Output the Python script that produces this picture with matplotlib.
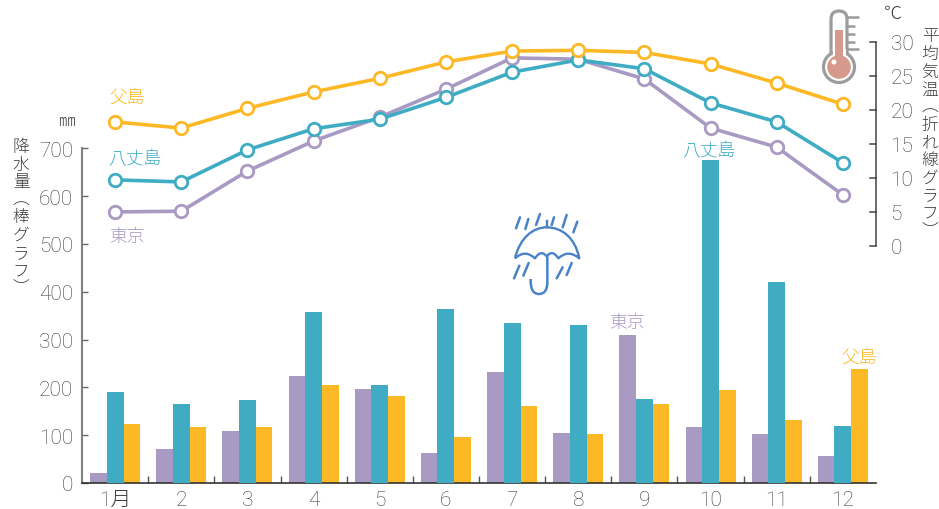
import matplotlib
matplotlib.use("Agg")
import matplotlib.pyplot as plt
import numpy as np
from matplotlib.patches import Circle, Rectangle, FancyBboxPatch, PathPatch
from matplotlib.path import Path

plt.rcParams['font.family'] = ['Noto Sans CJK JP', 'DejaVu Sans']

months = [1, 2, 3, 4, 5, 6, 7, 8, 9, 10, 11, 12]
month_labels = ['1月', '2', '3', '4', '5', '6', '7', '8', '9', '10', '11', '12']
rain_tokyo = [21, 71, 109, 224, 197, 63, 232, 105, 310, 117, 103, 57]
rain_hachijo = [190, 165, 174, 358, 205, 364, 335, 331, 176, 676, 421, 119]
rain_chichi = [123, 117, 117, 205, 182, 96, 161, 103, 165, 195, 132, 238]
temp_tokyo = [5.0, 5.1, 11.0, 15.4, 18.9, 23.0, 27.6, 27.4, 24.5, 17.3, 14.5, 7.5]
temp_hachijo = [9.7, 9.4, 14.1, 17.2, 18.6, 21.8, 25.5, 27.3, 26.0, 21.0, 18.2, 12.2]
temp_chichi = [18.2, 17.3, 20.2, 22.6, 24.6, 27.0, 28.6, 28.7, 28.4, 26.7, 23.9, 20.8]
rain_ticks = [0, 100, 200, 300, 400, 500, 600, 700]
temp_ticks = [0, 5, 10, 15, 20, 25, 30]

PURPLE = '#a99ac3'
TEAL = '#3facc4'
ORANGE = '#fdb825'
TXT = '#3c3c3c'
W, H = 939, 510
FS = 15
NUM = ['Roboto', 'Noto Sans CJK JP']

fig = plt.figure(figsize=(W / 100, H / 100), dpi=100)


def rect(l, t, r, b):
    return [l / W, 1 - b / H, (r - l) / W, (b - t) / H]


ax = fig.add_axes(rect(82, 42.5, 876, 484))
ax.patch.set_alpha(0)
x = np.array(months, dtype=float)
bw = 0.257
ax.bar(x - 0.25, rain_tokyo, bw, color=PURPLE, zorder=2)
ax.bar(x + 0.25, rain_chichi, bw, color=ORANGE, zorder=2)
ax.bar(x, rain_hachijo, bw, color=TEAL, zorder=3)
ax.set_xlim(0.5, 12.5)
ax.set_ylim(0, 441.5 / 0.478)
for s in ['top', 'right']:
    ax.spines[s].set_visible(False)
ax.spines['left'].set_bounds(0, 700)
ax.spines['left'].set_color('#808080')
ax.spines['left'].set_linewidth(1.5)
ax.spines['bottom'].set_color('#333333')
ax.spines['bottom'].set_linewidth(1.2)
ax.set_yticks(rain_ticks)
ax.tick_params(axis='y', direction='in', length=4.5, width=1, color='#666666',
               labelsize=FS, labelcolor=TXT, pad=6.5)
ax.set_xticks(months)
ax.set_xticklabels(month_labels)
ax.set_xticks(np.arange(1.5, 12.5, 1), minor=True)
ax.tick_params(axis='x', which='major', length=0, labelsize=FS, labelcolor=TXT, pad=5)
ax.tick_params(axis='x', which='minor', direction='in', length=5, width=1, color='#555555')
for lab in ax.get_xticklabels() + ax.get_yticklabels():
    lab.set_family(NUM)
    lab.set_weight('light')

ax2 = fig.add_axes(rect(82, 42.5, 876, 247))
ax2.patch.set_alpha(0)
ax2.set_xlim(0.5, 12.5)
ax2.set_ylim(0, 30)
for series, c in [(temp_tokyo, PURPLE), (temp_hachijo, TEAL), (temp_chichi, ORANGE)]:
    ax2.plot(months, series, color=c, lw=2.6, marker='o', ms=9, mfc='white',
             mec=c, mew=2, clip_on=False)
for s in ['top', 'left', 'bottom']:
    ax2.spines[s].set_visible(False)
ax2.spines['right'].set_color('#444444')
ax2.spines['right'].set_linewidth(1.1)
ax2.set_xticks([])
ax2.yaxis.tick_right()
ax2.set_yticks(temp_ticks)
ax2.tick_params(axis='y', direction='out', left=False, right=False, labelsize=FS,
                labelcolor=TXT, pad=7)
for t in temp_ticks:
    ax2.plot([12.5 - 6 / 66.17, 12.5], [t, t], color='#444444', lw=1.1, clip_on=False)
for lab in ax2.get_yticklabels():
    lab.set_family(NUM)
    lab.set_weight('light')

# pixel overlay for annotations and icons
ov = fig.add_axes([0, 0, 1, 1])
ov.set_xlim(0, W)
ov.set_ylim(H, 0)
ov.axis('off')
ov.patch.set_alpha(0)


def label(px, py, s, c, size=12.8, **kw):
    ov.text(px, py, s, color=c, fontsize=size, ha='center', va='center', weight='light', **kw)


for px, py, s, c in [(127, 98, '父島', ORANGE), (135, 159, '八丈島', TEAL), (127, 237, '東京', PURPLE),
                     (709, 151, '八丈島', TEAL), (627, 323, '東京', PURPLE), (859, 358, '父島', ORANGE)]:
    label(px, py, s, c)
label(66, 122, '㎜', TXT, size=12)
label(893, 14, '℃', TXT, size=13)
ov.text(21, 218, '\n'.join('降水量︵棒グラフ︶'), color=TXT, fontsize=12, ha='center', va='center',
        linespacing=1.05, weight='light')
ov.text(930, 134, '\n'.join('平均気温︵折れ線グラフ︶'), color=TXT, fontsize=12, ha='center', va='center',
        linespacing=1.05, weight='light')

# thermometer icon
G = '#9c9c9c'
PINK = '#d59a8c'
for ty, tx in [(18, 859), (27, 855), (35, 855), (43, 855), (50, 859)]:
    ov.plot([847, tx], [ty, ty], color=G, lw=1.8, solid_capstyle='butt')
tube = FancyBboxPatch((831, 12), 16, 52, boxstyle='round,pad=0,rounding_size=8', fc='white', ec=G, lw=2.3, zorder=3)
ov.add_patch(tube)
ov.add_patch(Circle((839, 68), 15.5, fc='white', ec=G, lw=2.3, zorder=3))
ov.add_patch(Rectangle((832.5, 50), 13, 12, fc='white', ec='none', zorder=3.5))
ov.add_patch(Rectangle((835, 31), 8, 30, fc=PINK, ec='none', zorder=4))
ov.add_patch(Circle((839, 68), 11.8, fc=PINK, ec='none', zorder=4))
ov.add_patch(Circle((834, 63), 2.5, fc='white', ec='none', zorder=5))

# umbrella icon
B = '#4a82c8'


def up(a, b):
    return 490 + a / 3, 200 + b / 3


dome = [(75, 178), (90, 115), (130, 85), (170, 85), (215, 85), (255, 115), (268, 178),
        (235, 150), (205, 178), (188, 150), (170, 172), (152, 150), (135, 178), (105, 150), (75, 178)]
codes = [Path.MOVETO, Path.CURVE4, Path.CURVE4, Path.CURVE4, Path.CURVE4, Path.CURVE4, Path.CURVE4,
         Path.CURVE3, Path.CURVE3, Path.CURVE3, Path.CURVE3, Path.CURVE3, Path.CURVE3, Path.CURVE3, Path.CURVE3]
ov.add_patch(PathPatch(Path([up(*p) for p in dome], codes), fc='white', ec=B, lw=1.7, joinstyle='round'))
ov.plot(*zip(up(170, 65), up(170, 85)), color=B, lw=1.7)
hook = [(172, 172), (172, 250), (172, 285), (147, 285), (120, 285), (122, 240)]
hc = [Path.MOVETO, Path.LINETO, Path.CURVE3, Path.CURVE3, Path.CURVE3, Path.CURVE3]
ov.add_patch(PathPatch(Path([up(*p) for p in hook], hc), fc='none', ec=B, lw=1.8))
streaks = [((90, 55), (78, 88)), ((115, 60), (106, 90)), ((150, 45), (138, 78)), ((192, 55), (185, 78)),
           ((230, 48), (218, 85)), ((262, 68), (250, 100)), ((88, 200), (72, 238)),
           ((116, 192), (100, 230)), ((218, 205), (200, 238)), ((245, 192), (230, 228))]
for a, b in streaks:
    ov.plot(*zip(up(*a), up(*b)), color=B, lw=1.8, solid_capstyle='round')

fig.savefig('out.png', dpi=100)
